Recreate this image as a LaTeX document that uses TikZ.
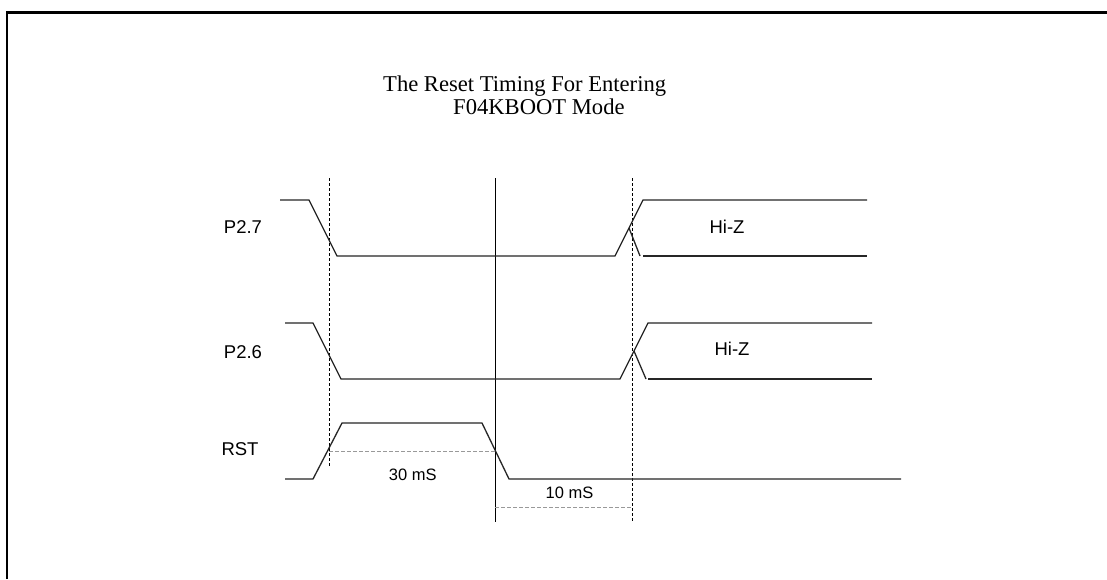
\documentclass[tikz,border=0pt]{standalone}
\usepackage{fontspec}
\setmainfont{Liberation Serif}
\setsansfont{Liberation Sans}
\begin{document}
\begin{tikzpicture}[x=1pt,y=-1pt,
  sig/.style={line width=1.3pt,draw=black!85},
  vline/.style={line width=1pt,black},
  vdash/.style={line width=1pt,black,dash pattern=on 3pt off 2pt},
  gdash/.style={line width=1pt,black!40,dash pattern=on 4pt off 2pt},
  frame/.style={line width=2.5pt,black},
  lab/.style={font=\sffamily\fontsize{18.5}{20}\selectfont,inner sep=0pt},
  ms/.style={font=\sffamily\fontsize{16.5}{18}\selectfont,inner sep=0pt},
  ttl/.style={font=\fontsize{22.6}{24}\selectfont,inner sep=0pt,anchor=base west}]
\useasboundingbox (0,0) rectangle (1107,579);
\fill[white] (0,0) rectangle (1107,579);
% frame
\draw[frame] (7,579) -- (7,12.5) -- (1107,12.5);
% title
\node[ttl] (t1) at (383,91.7) {The Reset Timing For Entering};
\node[ttl] (t2) at (453,114.3) {F04KBOOT Mode};
% vertical marker lines
\draw[vdash] (329,178) -- (329,467);
\draw[vline] (495,178) -- (495,522);
\draw[vdash] (632,178) -- (632,522);
% P2.7
\node[lab] (p27) at (243,227) {P2.7};
\draw[sig] (280,200) -- (309,200) -- (337,256) -- (615,256) -- (643,200) -- (867,200);
\draw[sig] (629,228) -- (640,256);
\draw[sig] (643,256) -- (867,256);
\node[lab] (hz1) at (727,227) {Hi-Z};
% P2.6
\node[lab] (p26) at (243,352) {P2.6};
\draw[sig] (285,323) -- (313,323) -- (341,379) -- (620,379) -- (648,323) -- (872,323);
\draw[sig] (634,351) -- (646,379);
\draw[sig] (648,379) -- (872,379);
\node[lab] (hz2) at (732,349) {Hi-Z};
% RST
\node[lab] (rst) at (240,449) {RST};
\draw[sig] (285,479) -- (313,479) -- (342,423) -- (482,423) -- (509,479) -- (901,479);
% time intervals
\draw[gdash] (329,451) -- (495,451);
\node[ms] (m30) at (412.7,474.7) {30 mS};
\draw[gdash] (495,507) -- (632,507);
\node[ms] (m10) at (569.5,493) {10 mS};
\end{tikzpicture}
\end{document}
